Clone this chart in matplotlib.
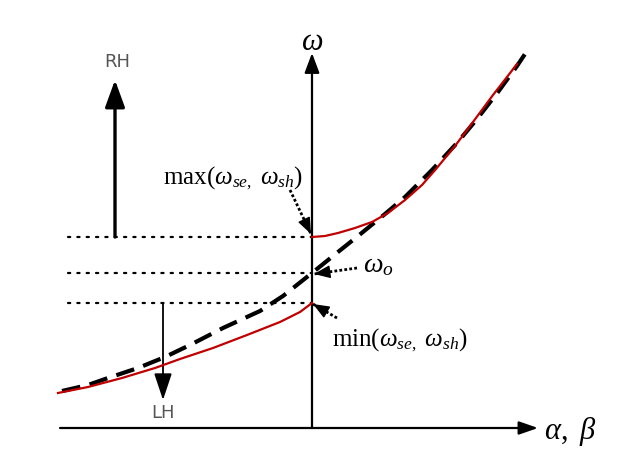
import numpy as np
import matplotlib.pyplot as plt

plt.rcParams['mathtext.fontset'] = 'custom'
plt.rcParams['mathtext.rm'] = 'Liberation Serif'
plt.rcParams['mathtext.it'] = 'Liberation Serif:italic'

# dispersion curves (beta, omega), origin at axis crossing
lh_beta = [-254, -224, -190, -157, -132, -99, -65, -32, -12, 0]
lh_omega = [35, 41, 50, 60, 69, 80, 93, 106, 116, 125]

rh_beta = [0, 13, 26, 43, 60, 76, 93, 110, 124, 143, 161, 181, 195, 205]
rh_omega = [191, 192, 195, 200, 206, 215, 228, 243, 259, 282, 306, 333, 351, 364]

tl_beta = [-250, -224, -204, -174, -147, -122, -89, -52, -29, 0, 26, 46, 73, 93, 120, 145, 165, 186, 205, 213]
tl_omega = [37, 43, 50, 60, 71, 83, 100, 117, 132, 155, 176, 192, 214, 231, 258, 285, 309, 336, 362, 374]

# characteristic frequencies
w_max, w_o, w_min = 191, 155, 125

fig = plt.figure(figsize=(6.25, 4.57), dpi=100)
ax = fig.add_axes([0, 0, 1, 1])
ax.set_xlim(-312, 313)
ax.set_ylim(-29, 428)
ax.axis('off')

# axes
ax.annotate('', xy=(226, 0), xytext=(-252, 0),
            arrowprops=dict(arrowstyle='-|>,head_length=1.15,head_width=0.4',
                            lw=1.6, color='k', mutation_scale=10, shrinkA=0, shrinkB=0))
ax.annotate('', xy=(0, 375), xytext=(0, 0),
            arrowprops=dict(arrowstyle='-|>,head_length=1.2,head_width=0.45',
                            lw=1.6, color='k', mutation_scale=10, shrinkA=0, shrinkB=0))

# dotted levels
for w in (w_max, w_o, w_min):
    ax.plot([-244, 0], [w, w], color='k', lw=1.6, ls=(0, (1, 3.2)),
            dash_capstyle='round')

# curves
ax.plot(tl_beta, tl_omega, color='k', lw=3, dashes=(4.5, 2.3), zorder=3,
        solid_joinstyle='round', dash_joinstyle='round')
ax.plot(lh_beta, lh_omega, color='#c00000', lw=1.6, zorder=4, solid_joinstyle='round')
ax.plot(rh_beta, rh_omega, color='#c00000', lw=1.6, zorder=4, solid_joinstyle='round')

# RH / LH arrows
ax.annotate('', xy=(-197, 348), xytext=(-197, w_max),
            arrowprops=dict(arrowstyle='-|>,head_length=1.65,head_width=0.6',
                            lw=2.4, color='k', mutation_scale=10, shrinkA=0, shrinkB=0))
ax.annotate('', xy=(-149, 28), xytext=(-149, w_min),
            arrowprops=dict(arrowstyle='-|>,head_length=1.65,head_width=0.55',
                            lw=1.3, color='k', mutation_scale=10, shrinkA=0, shrinkB=0))
ax.text(-195, 366, 'RH', ha='center', va='center', fontsize=13, color='#555555')
ax.text(-149, 15, 'LH', ha='center', va='center', fontsize=13, color='#555555')

# annotation arrows (dotted shaft + solid head)
def dot_arrow(x0, y0, x1, y1):
    ax.plot([x0, x1], [y0, y1], color='k', lw=2, ls=(0, (1, 0.8)))
    dx, dy = x1 - x0, y1 - y0
    n = np.hypot(dx, dy)
    ax.annotate('', xy=(x1, y1), xytext=(x1 - dx / n * 2, y1 - dy / n * 2),
                arrowprops=dict(arrowstyle='-|>,head_length=1.0,head_width=0.4',
                                lw=1, color='k', mutation_scale=10, shrinkA=0, shrinkB=0))

dot_arrow(-22, 238, -1, 194)
dot_arrow(45, 160, 2, 154)
dot_arrow(25, 110, 1, 124)

ax.text(0, 386, r'$\omega$', ha='center', va='center', fontsize=22)
ax.text(-79, 250, r'$\mathrm{max}(\omega_{se,}\ \omega_{sh})$', ha='center', va='center', fontsize=18)
ax.text(66, 164, r'$\omega_o$', ha='center', va='center', fontsize=20)
ax.text(88, 88, r'$\mathrm{min}(\omega_{se,}\ \omega_{sh})$', ha='center', va='center', fontsize=18)
ax.text(258, -4, r'$\alpha,\ \beta$', ha='center', va='center', fontsize=22)

plt.savefig('out.png', dpi=100)
